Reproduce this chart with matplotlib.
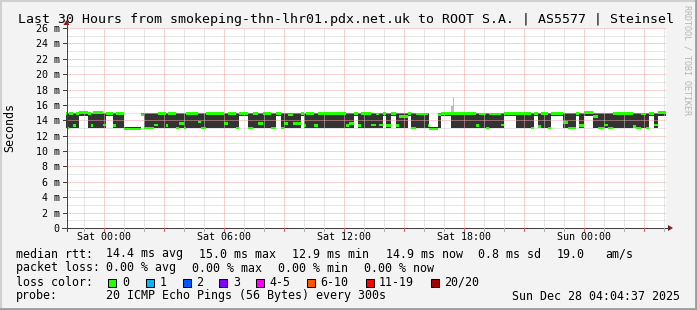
import numpy as np
import matplotlib
matplotlib.use("Agg")
import matplotlib.pyplot as plt
from matplotlib.lines import Line2D
from matplotlib.patches import Rectangle, Polygon

# ------------------------------
#  data (runs of 5 minute steps)
# ------------------------------
run_steps = [1, 1, 2, 2, 2, 5, 2, 1, 6, 2,
             4, 2, 5, 10, 2, 6, 2, 5, 1, 5,
             2, 3, 1, 7, 2, 3, 11, 2, 5, 2,
             5, 3, 3, 3, 5, 3, 3, 2, 2, 3,
             5, 2, 1, 5, 2, 17, 2, 3, 2, 2,
             6, 3, 2, 2, 2, 3, 3, 2, 5, 2,
             3, 7, 1, 5, 2, 6, 1, 1, 13, 2,
             4, 2, 7, 2, 7, 9, 2, 2, 2, 4,
             2, 7, 3, 5, 2, 3, 5, 3, 4, 2,
             3, 12, 2, 3, 3, 2, 3, 2, 5]

# median rtt in ms
run_median = [14.9, 13.0, 14.9, 13.3, 14.9, 15.0, 14.9, 13.3, 15.0, 13.4,
              14.9, 13.3, 14.9, 12.9, 14.7, 13.0, 13.4, 14.9, 13.3, 14.9,
              13.0, 13.6, 13.0, 14.9, 13.8, 13.0, 14.9, 13.6, 14.9, 13.0,
              14.9, 13.0, 14.9, 13.6, 14.9, 13.0, 14.9, 13.0, 13.6, 14.7,
              13.6, 14.9, 13.3, 14.9, 13.3, 14.9, 13.3, 13.6, 14.9, 13.3,
              14.9, 13.4, 14.8, 13.4, 14.9, 13.3, 14.9, 13.3, 14.5, 14.9,
              13.0, 14.8, 13.3, 12.9, 14.7, 14.9, 14.9, 14.9, 14.9, 13.3,
              14.8, 13.0, 14.8, 13.4, 14.9, 14.9, 13.0, 14.9, 13.2, 14.9,
              13.0, 14.9, 13.7, 13.0, 14.9, 13.3, 15.0, 14.5, 13.0, 13.4,
              13.0, 14.9, 13.2, 13.0, 14.8, 13.0, 14.9, 13.4, 15.0]

# smoke (dark) lower / upper edge in ms
run_smoke_lo = [13.0, 13.0, 13.0, 13.0, 13.0, 14.6, 13.0, 13.0, 13.0, 13.0,
                14.6, 13.0, 13.0, 12.8, 14.6, 13.0, 13.0, 13.0, 13.0, 13.0,
                13.0, 13.0, 13.0, 13.0, 13.0, 13.0, 13.0, 13.0, 13.0, 13.0,
                14.6, 13.0, 13.0, 13.0, 13.0, 13.0, 14.6, 13.0, 13.0, 13.0,
                13.0, 14.6, 13.0, 13.0, 13.0, 13.0, 13.0, 13.0, 14.6, 13.0,
                13.0, 13.0, 13.0, 13.0, 14.6, 13.0, 14.6, 13.0, 13.0, 14.6,
                13.0, 13.0, 13.0, 12.8, 13.0, 14.6, 13.0, 13.0, 13.0, 13.0,
                13.0, 13.0, 13.0, 13.0, 14.6, 13.0, 13.0, 14.6, 13.0, 13.0,
                13.0, 14.6, 13.0, 13.0, 14.6, 13.0, 14.6, 13.0, 13.0, 13.0,
                13.0, 13.0, 13.0, 13.0, 13.0, 13.0, 14.6, 13.0, 14.6]
run_smoke_hi = [15.0, 15.0, 15.0, 15.0, 15.0, 15.0, 15.0, 15.0, 15.0, 15.0,
                15.0, 15.0, 15.0, 13.1, 15.0, 15.0, 15.0, 15.0, 15.0, 15.0,
                15.0, 15.0, 15.0, 15.0, 15.0, 15.0, 15.0, 15.0, 15.0, 15.0,
                15.0, 15.0, 15.0, 15.0, 15.0, 15.0, 15.0, 15.0, 15.0, 15.0,
                15.0, 15.0, 15.0, 15.0, 15.0, 15.0, 15.0, 15.0, 15.0, 15.0,
                15.0, 15.0, 15.0, 15.0, 15.0, 15.0, 15.0, 15.0, 15.0, 15.0,
                15.0, 15.0, 15.0, 13.1, 15.0, 15.0, 15.0, 15.0, 15.0, 15.0,
                15.0, 15.0, 15.0, 15.0, 15.0, 15.0, 15.0, 15.0, 15.0, 15.0,
                15.0, 15.0, 15.0, 15.0, 15.0, 15.0, 15.0, 15.0, 15.0, 15.0,
                15.0, 15.0, 15.0, 15.0, 15.0, 15.0, 15.0, 15.0, 15.0]
# light grey smoke top (outliers)
run_smoke_max = list(run_smoke_hi)
run_smoke_max[66] = 15.9
run_smoke_max[67] = 17.0

y_ticks = list(range(0, 27, 2))
y_labels = ["0"] + [f"{v} m" for v in y_ticks[1:]]
x_label_hours = [0, 6, 12, 18, 24]
x_labels = ["Sat 00:00", "Sat 06:00", "Sat 12:00", "Sat 18:00", "Sun 00:00"]

loss_labels = ["0", "1", "2", "3", "4-5", "6-10", "11-19", "20/20"]
loss_colors = ["#26ff00", "#00b8ff", "#0059ff", "#7e00ff",
               "#ff00ff", "#ff5500", "#ff0000", "#a10000"]

title = "Last 30 Hours from smokeping-thn-lhr01.pdx.net.uk to ROOT S.A. | AS5577 | Steinsel"
rtt_items = ["median rtt:", "14.4 ms avg", "15.0 ms max", "12.9 ms min",
             "14.9 ms now", "0.8 ms sd", "19.0", "am/s"]
loss_items = ["packet loss:", "0.00 % avg", "0.00 % max", "0.00 % min", "0.00 % now"]
probe_items = ["probe:", "20 ICMP Echo Pings (56 Bytes) every 300s"]
stamp = "Sun Dec 28 04:04:37 2025"

# time axis in hours relative to Sat 00:00
t_end = 28 + 4 / 60 + 37 / 3600
t_start = t_end - 30
step_h = 5 / 60

# ------------------------------
#  figure
# ------------------------------
W, H = 697, 310
plt.rcParams['font.family'] = ['DejaVu Sans Mono']
fig = plt.figure(figsize=(W / 100, H / 100), dpi=100, facecolor='#f3f3f3')


def fx(x):
    return x / W


def fy(y):
    return 1 - y / H


ax = fig.add_axes([fx(66), fy(228), 600 / W, 200 / H])
ax.set_facecolor('white')
ax.set_xlim(t_start, t_end)
ax.set_ylim(0, 26)
for s in ax.spines.values():
    s.set_visible(False)

# step arrays
edges = t_start + np.concatenate([[0], np.cumsum(run_steps)]) * step_h
med = np.array(run_median + [run_median[-1]])
lo = np.array(run_smoke_lo + [run_smoke_lo[-1]])
hi = np.array(run_smoke_hi + [run_smoke_hi[-1]])
mx = np.array(run_smoke_max + [run_smoke_max[-1]])

ax.fill_between(edges, lo, mx, step='post', color='#bdbdbd', lw=0, zorder=1)
ax.fill_between(edges, lo, hi, step='post', color='#333333', lw=0, zorder=2)

# grid (dotted, drawn over the smoke)
px = 0.72
for v in range(1, 26, 2):
    ax.axhline(v, color='#cfcfcf', lw=px, ls=(0, (1, 1)), zorder=3)
for v in range(2, 27, 2):
    ax.axhline(v, color='#f2a3a3', lw=px, ls=(0, (1, 1)), zorder=3)
for h in range(-1, 29):
    if h % 3 == 0:
        ax.axvline(h, color='#f2a3a3', lw=px, ls=(0, (1, 1)), zorder=3)
    else:
        ax.axvline(h, color='#cfcfcf', lw=px, ls=(0, (1, 1)), zorder=3)

# median drawn as a thin band (like smokeping's stacked area)
ax.fill_between(edges, med - 0.16, med + 0.16, step='post', color='#26ff00', lw=0, zorder=4)

# ticks / labels
ax.set_yticks(y_ticks)
ax.set_yticklabels(y_labels)
ax.set_xticks(x_label_hours)
ax.set_xticklabels(x_labels)
ax.tick_params(axis='y', length=0, pad=4.5, labelsize=7.2, labelcolor='#000000')
ax.tick_params(axis='x', length=0, pad=3, labelsize=7.2, labelcolor='#000000')

# axis lines with arrows
ax_col = '#404040'
fig.add_artist(Line2D([fx(66.5), fx(66.5)], [fy(231), fy(24)], color=ax_col, lw=px))
fig.add_artist(Line2D([fx(62), fx(668)], [fy(228), fy(228)], color=ax_col, lw=px))
fig.add_artist(Polygon([[fx(63.5), fy(25)], [fx(69.5), fy(25)], [fx(66.5), fy(20)]],
                       closed=True, color='#8a1a1a', lw=0, transform=fig.transFigure))
fig.add_artist(Polygon([[fx(668), fy(225)], [fx(668), fy(231)], [fx(673), fy(228)]],
                       closed=True, color='#8a1a1a', lw=0, transform=fig.transFigure))
for v in y_ticks:
    yy = 228 - v * 200 / 26
    fig.add_artist(Line2D([fx(62.5), fx(66.5)], [fy(yy), fy(yy)], color=ax_col, lw=px))
for h in range(-1, 29):
    xx = 66 + (h - t_start) * 20
    col = '#e06060' if h % 3 == 0 else '#b0b0b0'
    fig.add_artist(Line2D([fx(xx), fx(xx)], [fy(228), fy(231)], color=col, lw=px))

# texts
fig.text(fx(346.5), fy(19), title, ha='center', va='center', fontsize=9.5)
fig.text(fx(10), fy(128), "Seconds", rotation=90, ha='center', va='center', fontsize=8.35)
fig.text(fx(687), fy(60), "RRDTOOL / TOBI OETIKER", rotation=270, ha='center', va='center',
         fontsize=6, color='#b5b5b5')

fs = 8.35
rtt_x = [15.5, 105.5, 198.8, 292, 385.5, 478, 557, 605.5]
for x, s in zip(rtt_x, rtt_items):
    fig.text(fx(x), fy(254), s, ha='left', va='center', fontsize=fs)
loss_x = [15.5, 106, 192, 278, 364]
for x, s in zip(loss_x, loss_items):
    fig.text(fx(x), fy(268), s, ha='left', va='center', fontsize=fs)
fig.text(fx(15.5), fy(282), "loss color:", ha='left', va='center', fontsize=fs)
probe_x = [15.5, 106]
for x, s in zip(probe_x, probe_items):
    fig.text(fx(x), fy(296), s, ha='left', va='center', fontsize=fs)
fig.text(fx(680.5), fy(296), stamp, ha='right', va='center', fontsize=fs)

box_x = [108, 145.5, 182.5, 219, 256, 306.5, 365.5, 430.5]
lab_x = [122, 159.5, 196.5, 233, 269, 320, 379, 444]
for bx, lx, lab, c in zip(box_x, lab_x, loss_labels, loss_colors):
    fig.add_artist(Rectangle((fx(bx), fy(286.5)), 8 / W, 8 / H, facecolor=c,
                             edgecolor='black', lw=px, transform=fig.transFigure))
    fig.text(fx(lx), fy(282), lab, ha='left', va='center', fontsize=fs)

# 3d frame
fig.add_artist(Line2D([0, 1], [fy(1), fy(1)], color='#d0d0d0', lw=1.5))
fig.add_artist(Line2D([fx(1), fx(1)], [0, 1], color='#d0d0d0', lw=1.5))
fig.add_artist(Line2D([0, 1], [fy(308.5), fy(308.5)], color='#9c9c9c', lw=2))
fig.add_artist(Line2D([fx(695.5), fx(695.5)], [0, 1], color='#9c9c9c', lw=2))

fig.savefig("out.png", dpi=100, facecolor=fig.get_facecolor())
